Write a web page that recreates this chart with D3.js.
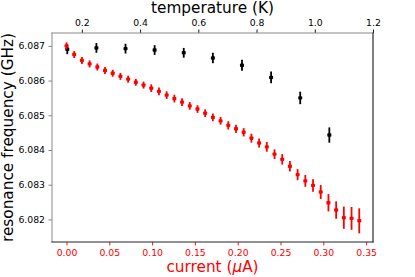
<!DOCTYPE html>
<html>
<head>
<meta charset="utf-8">
<script src="https://cdn.jsdelivr.net/npm/d3@7"></script>
<style>
    html, body { margin: 0; padding: 0; background: #fff; }
    svg { display: block; font-family: 'DejaVu Sans', sans-serif; }
</style>
</head>
<body>
<svg id="chart" width="415" height="277"></svg>
<script>
// current sweep (uA) and measured resonance (GHz)
const currents = d3.range(39).map(i => +(i * 0.009).toFixed(3));
const currentFreqs = [
    6.08700, 6.08675, 6.08658, 6.08648, 6.08639, 6.08629, 6.08621, 6.08612, 6.08604, 6.08595,
    6.08587, 6.08578, 6.08569, 6.08558, 6.08548, 6.08538, 6.08527, 6.08518, 6.08506, 6.08494,
    6.08484, 6.08471, 6.08461, 6.08451, 6.08434, 6.08420, 6.08409, 6.08388, 6.08373, 6.08353,
    6.08329, 6.08311, 6.08298, 6.08279, 6.08248, 6.08227, 6.08205, 6.08203, 6.08196
];
const currentErrs = [
    0.00010, 0.00010, 0.00010, 0.00010, 0.00010, 0.00010, 0.00010, 0.00010, 0.00010, 0.00010,
    0.00010, 0.00011, 0.00011, 0.00011, 0.00011, 0.00011, 0.00011, 0.00011, 0.00011, 0.00011,
    0.00011, 0.00012, 0.00012, 0.00012, 0.00013, 0.00013, 0.00014, 0.00014, 0.00015, 0.00015,
    0.00016, 0.00017, 0.00018, 0.00020, 0.00025, 0.00025, 0.00032, 0.00033, 0.00036
];

// temperature sweep (K)
const temps = [0.15, 0.25, 0.35, 0.45, 0.55, 0.65, 0.75, 0.85, 0.95, 1.05];
const tempFreqs = [6.08690, 6.08694, 6.08692, 6.08688, 6.08680, 6.08665, 6.08644, 6.08609, 6.08550, 6.08443];
const tempErrs = [0.00014, 0.00014, 0.00014, 0.00014, 0.00014, 0.00015, 0.00016, 0.00017, 0.00018, 0.00022];

const currentTicks = [0, 0.05, 0.10, 0.15, 0.20, 0.25, 0.30, 0.35];
const tempTicks = [0.2, 0.4, 0.6, 0.8, 1.0, 1.2];
const freqTicks = [6.082, 6.083, 6.084, 6.085, 6.086, 6.087];

const plot = { left: 52, right: 373, top: 33, bottom: 242 };

const svg = d3.select('#chart');

const x = d3.scaleLinear()
    .domain([-0.01694, 0.35806])
    .range([plot.left, plot.right]);

const xTemp = d3.scaleLinear()
    .domain([0.0975, 1.2])
    .range([plot.left, plot.right]);

const y = d3.scaleLinear()
    .domain([6.08135, 6.08737])
    .range([plot.bottom, plot.top]);

const styleAxis = (g, color, tickColor) => {
    g.select('.domain').remove();
    g.selectAll('.tick line').attr('stroke', tickColor).attr('stroke-width', 0.9);
    g.selectAll('.tick text')
        .attr('fill', color)
        .style('font-family', '"DejaVu Sans", sans-serif')
        .style('font-size', '9.3px');
};

// axes
svg.append('g')
    .attr('transform', `translate(0,${plot.bottom})`)
    .call(d3.axisBottom(x).tickValues(currentTicks).tickFormat(d3.format('.2f')).tickSizeInner(3.5).tickSizeOuter(0).tickPadding(3.5))
    .call(g => styleAxis(g, '#ff0000', '#ff0000'));

svg.append('g')
    .attr('transform', `translate(0,${plot.top})`)
    .call(d3.axisTop(xTemp).tickValues(tempTicks).tickFormat(d3.format('.1f')).tickSizeInner(3.5).tickSizeOuter(0).tickPadding(3.5))
    .call(g => styleAxis(g, '#000', '#000'));

svg.append('g')
    .attr('transform', `translate(${plot.left},0)`)
    .call(d3.axisLeft(y).tickValues(freqTicks).tickFormat(d3.format('.3f')).tickSizeInner(3.5).tickSizeOuter(0).tickPadding(3.5))
    .call(g => styleAxis(g, '#000', '#777'));

// spines
const spines = [
    { x1: plot.left, y1: plot.top, x2: plot.right, y2: plot.top, color: '#888' },
    { x1: plot.left, y1: plot.top, x2: plot.left, y2: plot.bottom, color: '#888' },
    { x1: plot.right, y1: plot.top, x2: plot.right, y2: plot.bottom, color: '#000' },
    { x1: plot.left, y1: plot.bottom, x2: plot.right, y2: plot.bottom, color: '#222' }
];
svg.append('g')
    .selectAll('line')
    .data(spines)
    .enter()
    .append('line')
    .attr('x1', d => d.x1)
    .attr('y1', d => d.y1)
    .attr('x2', d => d.x2)
    .attr('y2', d => d.y2)
    .attr('stroke', d => d.color)
    .attr('stroke-width', 1)
    .attr('stroke-linecap', 'square');

const drawSeries = (xs, ys, errs, xScale, color) => {
    const g = svg.append('g');
    const data = xs.map((v, i) => ({ x: xScale(v), y: ys[i], e: errs[i] }));

    g.selectAll('line')
        .data(data)
        .enter()
        .append('line')
        .attr('x1', d => d.x)
        .attr('x2', d => d.x)
        .attr('y1', d => y(d.y - d.e))
        .attr('y2', d => y(d.y + d.e))
        .attr('stroke', color)
        .attr('stroke-width', 1.8);

    g.selectAll('rect')
        .data(data)
        .enter()
        .append('rect')
        .attr('x', d => d.x - 2)
        .attr('y', d => y(d.y) - 1.7)
        .attr('width', 4)
        .attr('height', 3.4)
        .attr('rx', 0.8)
        .attr('fill', color);
};

drawSeries(temps, tempFreqs, tempErrs, xTemp, '#000');
drawSeries(currents, currentFreqs, currentErrs, x, '#ff0000');

// labels
svg.append('text')
    .attr('x', (plot.left + plot.right) / 2)
    .attr('y', 12.7)
    .attr('text-anchor', 'middle')
    .attr('fill', '#000')
    .style('font-size', '15.3px')
    .text('temperature (K)');

const xLabel = svg.append('text')
    .attr('x', (plot.left + plot.right) / 2)
    .attr('y', 272)
    .attr('text-anchor', 'middle')
    .attr('fill', '#ff0000')
    .style('font-size', '15.3px');
xLabel.append('tspan').text('current (');
xLabel.append('tspan').style('font-style', 'italic').text('\u03bc');
xLabel.append('tspan').text('A)');

svg.append('text')
    .attr('transform', `translate(13,${(plot.top + plot.bottom) / 2}) rotate(-90)`)
    .attr('text-anchor', 'middle')
    .attr('fill', '#000')
    .style('font-size', '15.3px')
    .text('resonance frequency (GHz)');
</script>
</body>
</html>
